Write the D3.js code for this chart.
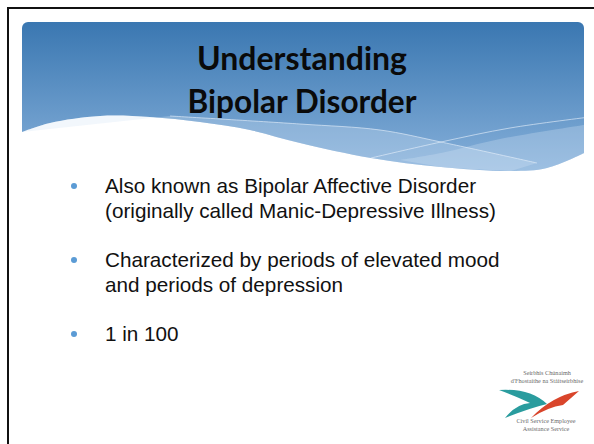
<!DOCTYPE html>
<meta charset="UTF-8">
<style>
body { margin: 0; background: #fff; }
svg { display: block; }
.title { font-family: Lato, "Open Sans", sans-serif; font-weight: bold; fill: #0a0a0a; }
.bullet text { font-family: "Liberation Sans", Arial, sans-serif; fill: #111; }
.logo text { font-family: "Liberation Serif", "DejaVu Serif", serif; fill: #6a6a6a; }
</style>
<body>
<script src="https://cdnjs.cloudflare.com/ajax/libs/d3/7.8.5/d3.min.js"></script>
<script>
// slide content
const titleLines = ["Understanding", "Bipolar Disorder"];
const bulletItems = [
  ["Also known as Bipolar Affective Disorder", "(originally called Manic-Depressive Illness)"],
  ["Characterized by periods of elevated mood", "and periods of depression"],
  ["1 in 100"]
];
const logoTop = ["Seirbhís Chúnaimh", "d'Fhostaithe na Stáitseirbhíse"];
const logoBottom = ["Civil Service Employee", "Assistance Service"];

const width = 594, height = 444;

const svg = d3.select("body").append("svg")
    .attr("width", width)
    .attr("height", height);

// frame lines
svg.append("line").attr("x1", 7).attr("x2", width).attr("y1", 8).attr("y2", 8)
    .attr("stroke", "#111").attr("stroke-width", 2);
svg.append("line").attr("x1", 8).attr("x2", 8).attr("y1", 7).attr("y2", height)
    .attr("stroke", "#111").attr("stroke-width", 2);

// ---------- header band ----------
const defs = svg.append("defs");
const grad = defs.append("linearGradient").attr("id", "hdr")
    .attr("x1", 0).attr("x2", 0).attr("y1", 0).attr("y2", 1);
grad.append("stop").attr("offset", "0%").attr("stop-color", "#3a77b1");
grad.append("stop").attr("offset", "100%").attr("stop-color", "#86b0da");

defs.append("clipPath").attr("id", "hdrClip")
  .append("rect").attr("x", 22).attr("y", 22).attr("width", 562).attr("height", 160).attr("rx", 6);

const curve = d3.line().curve(d3.curveCatmullRom);
const wave = [[584,153],[547,168],[511,171],[441,167],[371,158],[300,143],[250,130],[200,122],[150,117],[100,116],[50,123],[22,132]];

const hdr = svg.append("g").attr("clip-path", "url(#hdrClip)");
hdr.append("path")
    .attr("d", "M22,22H584V153" + curve(wave).replace(/^M[^C]*/, "L584,153") + "Z")
    .attr("fill", "url(#hdr)");

// light bands near the wave
const bandA = [[170,116],[300,124],[380,130],[441,142],[537,163]];
const bandB = [[371,158],[441,142],[510,128],[590,117]];
hdr.append("path")
    .attr("d", curve(bandA) + curve(wave.filter(p => p[0] < 537)).replace(/^M/, "L") + "Z")
    .attr("fill", "#d3e3f5").attr("opacity", 0.3);
hdr.append("path")
    .attr("d", curve([[400,160],[441,153],[500,139],[584,125]]) + "L584,153" +
        curve(wave.filter(p => p[0] >= 400)).replace(/^M/, "L") + "Z")
    .attr("fill", "#d3e3f5").attr("opacity", 0.3);
[bandA, bandB].forEach(b => {
  hdr.append("path").attr("d", curve(b)).attr("fill", "none")
      .attr("stroke", "#e6f0fb").attr("stroke-width", 0.8).attr("opacity", 0.8);
});

// title
const title = svg.append("g");
const titleY = d3.scalePoint().domain(titleLines).range([70, 113]);
const titleW = [210, 229];
titleLines.forEach((t, i) => {
  const el = title.append("text").attr("class", "title")
      .attr("x", 302).attr("y", titleY(t))
      .attr("text-anchor", "middle")
      .attr("font-size", 30).text(t);
  const w = el.node().getComputedTextLength();
  el.attr("font-size", 30 * titleW[i] / w);
});

// ---------- bullets ----------
const bulletY = d3.scaleLinear().domain([0, 1]).range([193, 267]); // first baseline of each item
const lineH = 25;
const bullets = svg.selectAll("g.bullet").data(bulletItems).join("g")
    .attr("class", "bullet")
    .attr("transform", (d, i) => `translate(0,${bulletY(i)})`);
bullets.append("circle").attr("cx", 74).attr("cy", -7).attr("r", 3)
    .attr("fill", "#5b9bd5");
bullets.selectAll("text").data(d => d).join("text")
    .attr("x", 105)
    .attr("y", (d, j) => j * lineH)
    .attr("font-size", 20.7)
    .text(d => d);

// ---------- logo ----------
const logo = svg.append("g").attr("class", "logo");
logoTop.forEach((t, i) => logo.append("text").attr("x", 547).attr("y", 375 + i * 8)
    .attr("text-anchor", "middle").attr("font-size", 6.2).text(t));
logoBottom.forEach((t, i) => logo.append("text").attr("x", 546).attr("y", 423 + i * 7.5)
    .attr("text-anchor", "middle").attr("font-size", 6.2).text(t));
// teal chevron
logo.append("path")
    .attr("d", "M499,390 Q530,388 547,404 Q530,408 505,418 Q516,404 530,403 Q518,397 499,390Z")
    .attr("fill", "#2a9c9e");
// red blade
logo.append("path")
    .attr("d", "M579,391 Q552,396 531,418 Q548,407 563,405 Q571,398 579,391Z")
    .attr("fill", "#d9452b");
</script>
</body>
